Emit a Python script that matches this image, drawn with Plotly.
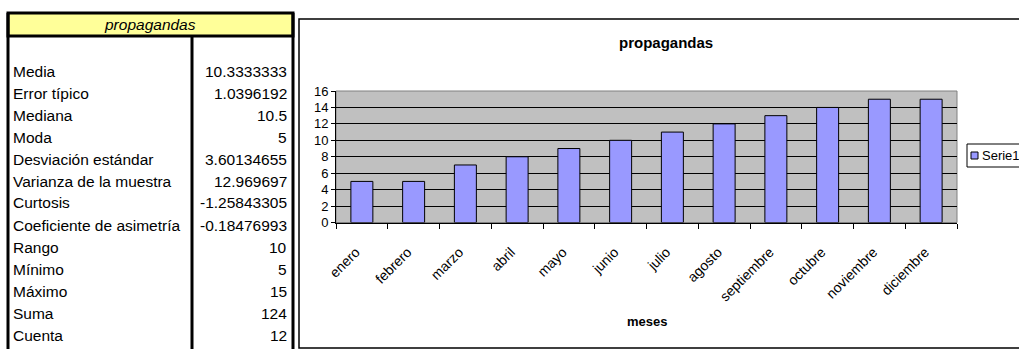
import plotly.graph_objects as go

# ---------------- data ----------------
meses = ["enero", "febrero", "marzo", "abril", "mayo", "junio", "julio",
         "agosto", "septiembre", "octubre", "noviembre", "diciembre"]
propagandas = [5, 5, 7, 8, 9, 10, 11, 12, 13, 14, 15, 15]
serie_name = "Serie1"
chart_title = "propagandas"
x_title = "meses"
y_ticks = [0, 2, 4, 6, 8, 10, 12, 14, 16]

table_header = "propagandas"
stat_labels = ["Media", "Error típico", "Mediana", "Moda", "Desviación estándar",
               "Varianza de la muestra", "Curtosis", "Coeficiente de asimetría",
               "Rango", "Mínimo", "Máximo", "Suma", "Cuenta"]
stat_values = ["10.3333333", "1.0396192", "10.5", "5", "3.60134655",
               "12.969697", "-1.25843305", "-0.18476993", "10", "5", "15",
               "124", "12"]

BAR_COLOR = "#9999FF"

# ---------------- layout helpers ----------------
W, H = 1019, 349
FONT = "Arial, 'Liberation Sans', sans-serif"


def px(x):
    return x / W


def py(y):
    return 1 - y / H


fig = go.Figure()
fig.add_trace(go.Bar(
    x=meses, y=propagandas, name=serie_name,
    marker=dict(color=BAR_COLOR, line=dict(color="black", width=1)),
    showlegend=False,
))

shapes = []
annotations = []

# ---- statistics table (left) ----
shapes.append(dict(type="rect", xref="paper", yref="paper",
                   x0=px(8), x1=px(293), y0=py(36), y1=py(13),
                   fillcolor="#FFFF99", line=dict(color="black", width=3)))
for xv, y0 in [(8, 13), (293, 13), (192, 36)]:
    shapes.append(dict(type="line", xref="paper", yref="paper",
                       x0=px(xv), x1=px(xv), y0=py(y0), y1=py(360),
                       line=dict(color="black", width=3)))
annotations.append(dict(text="<i>" + table_header + "</i>", xref="paper", yref="paper",
                        x=px(150), y=py(24.5), showarrow=False,
                        xanchor="center", yanchor="middle",
                        font=dict(family=FONT, size=15.5, color="black")))
for i, (lab, val) in enumerate(zip(stat_labels, stat_values)):
    yy = py(71 + 22 * i)
    annotations.append(dict(text=lab, xref="paper", yref="paper", x=px(11), y=yy,
                            showarrow=False, xanchor="left", yanchor="middle",
                            font=dict(family=FONT, size=15.5, color="black")))
    annotations.append(dict(text=val, xref="paper", yref="paper", x=px(289), y=yy,
                            showarrow=False, xanchor="right", yanchor="middle",
                            font=dict(family=FONT, size=15.5, color="black")))

# ---- chart frame ----
shapes.append(dict(type="rect", xref="paper", yref="paper",
                   x0=px(299), x1=px(1040), y0=py(348), y1=py(19),
                   line=dict(color="black", width=1.5), layer="below"))
# plot-area border (gray)
shapes.append(dict(type="rect", xref="paper", yref="paper",
                   x0=px(336), x1=px(957), y0=py(222.5), y1=py(91),
                   line=dict(color="#808080", width=1), layer="below"))

annotations.append(dict(text="<b>" + chart_title + "</b>", xref="paper", yref="paper",
                        x=px(666), y=py(43), showarrow=False,
                        xanchor="center", yanchor="middle",
                        font=dict(family=FONT, size=15, color="black")))
annotations.append(dict(text="<b>" + x_title + "</b>", xref="paper", yref="paper",
                        x=px(647), y=py(321), showarrow=False,
                        xanchor="center", yanchor="middle",
                        font=dict(family=FONT, size=13, color="black")))

# ---- legend (boxed key, as in the spreadsheet chart) ----
shapes.append(dict(type="rect", xref="paper", yref="paper",
                   x0=px(967), x1=px(1045), y0=py(167), y1=py(144),
                   fillcolor="white", line=dict(color="black", width=1)))
shapes.append(dict(type="rect", xref="paper", yref="paper",
                   x0=px(971), x1=px(978), y0=py(159), y1=py(152),
                   fillcolor=BAR_COLOR, line=dict(color="black", width=1)))
annotations.append(dict(text=serie_name, xref="paper", yref="paper",
                        x=px(980), y=py(155.5), showarrow=False,
                        xanchor="left", yanchor="middle",
                        font=dict(family=FONT, size=13, color="black")))

fig.update_layout(
    width=W, height=H, autosize=False,
    margin=dict(l=0, r=0, t=0, b=0, pad=0, autoexpand=False),
    paper_bgcolor="white", plot_bgcolor="#C0C0C0",
    font=dict(family=FONT, color="black"),
    bargap=0.575,
    shapes=shapes, annotations=annotations,
    showlegend=False,
    xaxis=dict(domain=[px(336), px(957)], type="category",
               tickson="boundaries", ticks="outside", ticklen=5,
               tickcolor="black", showline=True, linecolor="black", linewidth=1,
               tickangle=-45, tickfont=dict(family=FONT, size=14),
               ticklabelstandoff=15, ticklabelshift=-6,
               showgrid=False, fixedrange=True),
    yaxis=dict(domain=[py(222.5), py(91)], range=[0, 16],
               tickvals=y_ticks, ticks="outside", ticklen=4, tickcolor="black",
               showline=True, linecolor="black", linewidth=1,
               gridcolor="black", gridwidth=1, zeroline=False,
               tickfont=dict(family=FONT, size=13), fixedrange=True),
)

fig.write_html("out.html")
